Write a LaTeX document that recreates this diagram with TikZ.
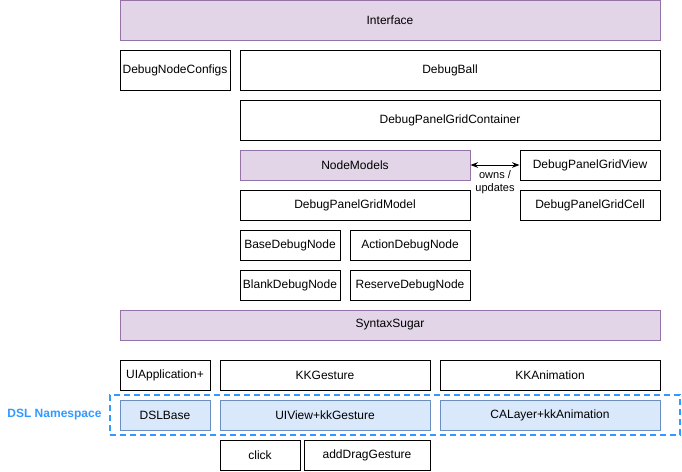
\documentclass[tikz,border=0pt]{standalone}
\usepackage{fontspec}
\setmainfont{Liberation Sans}
\usepackage{xcolor}
\usetikzlibrary{arrows.meta,positioning}
\definecolor{xpurple}{HTML}{E1D5E7}
\definecolor{xpurpleline}{HTML}{9673A6}
\definecolor{xblue}{HTML}{DAE8FC}
\definecolor{xblueline}{HTML}{6C8EBF}
\definecolor{xns}{HTML}{3399FF}

\begin{document}
\begin{tikzpicture}[
    x=1pt, y=-1pt,
    >=Stealth,
    every node/.style={font=\fontsize{12}{14}\selectfont},
    plain/.style={rectangle, draw=black, line width=1pt, minimum width=#1, minimum height=30pt, inner sep=0pt},
    layer/.style={plain=#1, fill=xpurple, draw=xpurpleline},
    dsl/.style={plain=#1, fill=xblue, draw=xblueline},
]
\useasboundingbox (0,0) rectangle (682,471);

% Interface layer
\node[layer=540pt, minimum height=40pt] (iface) at (390,20) {Interface};
\node[plain=110pt, minimum height=40pt] (cfg) at (175,70) {DebugNodeConfigs};
\node[plain=420pt, minimum height=40pt] (ball) at (450,70) {DebugBall};
\node[plain=420pt, minimum height=40pt] (cont) at (450,120) {DebugPanelGridContainer};

% Node models
\node[layer=230pt] (nm) at (355,165) {NodeModels};
\node[plain=140pt] (gv) at (590,165) {DebugPanelGridView};
\node[plain=230pt] (gm) at (355,205) {DebugPanelGridModel};
\node[plain=140pt] (gc) at (590,205) {DebugPanelGridCell};
\node[plain=100pt] (base) at (290,245) {BaseDebugNode};
\node[plain=120pt] (action) at (410,245) {ActionDebugNode};
\node[plain=100pt] (blank) at (290,285) {BlankDebugNode};
\node[plain=120pt] (reserve) at (410,285) {ReserveDebugNode};

\draw[<->, line width=1pt] (nm) -- node[below, align=center, font=\fontsize{11}{13}\selectfont, yshift=-2pt] {owns /\\updates} (gv);

% Syntax sugar
\node[layer=540pt] (sugar) at (390,325) {SyntaxSugar};
\node[plain=90pt] (app) at (165,375) {UIApplication+};
\node[plain=210pt] (gest) at (325,375) {KKGesture};
\node[plain=220pt] (anim) at (550,375) {KKAnimation};

% DSL namespace
\node[rectangle, draw=xns, line width=2pt, dash pattern=on 6pt off 4pt, minimum width=570pt, minimum height=40pt] (ns) at (395,415) {};
\node[left=4pt of ns, text=xns, font=\fontsize{12}{14}\selectfont\bfseries] (nslabel) {DSL Namespace};
\node[dsl=90pt] (dslbase) at (165,415) {DSLBase};
\node[dsl=210pt] (uiview) at (325,415) {UIView+kkGesture};
\node[dsl=220pt] (calayer) at (550,415) {CALayer+kkAnimation};

\node[plain=80pt] (click) at (260,455) {click};
\node[plain=126pt] (drag) at (367,455) {addDragGesture};

\end{tikzpicture}
\end{document}
